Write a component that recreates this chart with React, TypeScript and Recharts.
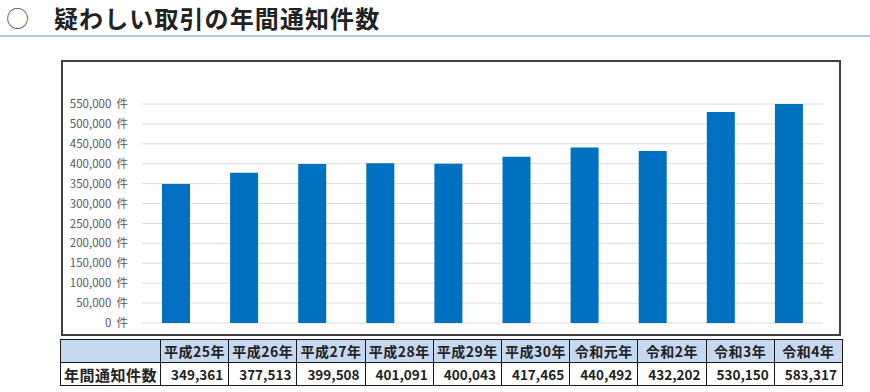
import React from "react";
import { BarChart, Bar, XAxis, YAxis, CartesianGrid } from "recharts";

const categories = ["平成25年", "平成26年", "平成27年", "平成28年", "平成29年", "平成30年", "令和元年", "令和2年", "令和3年", "令和4年"];
const counts = [349361, 377513, 399508, 401091, 400043, 417465, 440492, 432202, 530150, 583317];
const yTicks = [0, 50000, 100000, 150000, 200000, 250000, 300000, 350000, 400000, 450000, 500000, 550000];
const title = "疑わしい取引の年間通知件数";
const rowLabel = "年間通知件数";

const data = categories.map((c, i) => ({ name: c, value: counts[i] }));
const fmt = (v: number) => v.toLocaleString("en-US");
const FONT = '"Noto Sans CJK JP", "Noto Sans", sans-serif';

export default function App() {
  const cellBorder = "1.5px solid #1a1a1a";
  return (
    <div style={{ position: "absolute", left: 0, top: 0, width: 870, height: 392, background: "#fff", fontFamily: FONT, overflow: "hidden" }}>
      <div style={{ position: "absolute", left: 6, top: 0, height: 34, display: "flex", alignItems: "center", fontSize: 23, color: "#555" }}>○</div>
      <div style={{ position: "absolute", left: 54, top: 0, height: 34, display: "flex", alignItems: "center", fontSize: 24, fontWeight: 700, color: "#222", letterSpacing: 1.1 }}>{title}</div>
      <div style={{ position: "absolute", left: 0, top: 35, width: 870, height: 2, background: "#b9c9dc" }} />

      <div style={{ position: "absolute", left: 61, top: 60, width: 780, height: 276, border: "2px solid #404040", boxSizing: "border-box" }}>
        <BarChart width={776} height={272} data={data} margin={{ top: 42, right: 16, bottom: 11, left: 0 }}>
          <CartesianGrid vertical={false} stroke="#dcdcdc" strokeWidth={1} />
          <XAxis dataKey="name" hide />
          <YAxis
            width={79}
            domain={[0, 550000]}
            ticks={yTicks}
            allowDataOverflow
            axisLine={false}
            tickLine={false}
            tickSize={0}
            tickMargin={14}
            interval={0}
            tickFormatter={(v: number) => `${fmt(v)}\u00a0\u00a0件`}
            tick={{ fontSize: 11.5, fill: "#595959", fontFamily: FONT }}
          />
          <Bar dataKey="value" fill="#0070c0" barSize={28} isAnimationActive={false} />
        </BarChart>
      </div>

      <table style={{ position: "absolute", left: 60, top: 339, width: 782, borderCollapse: "collapse", tableLayout: "fixed", fontFamily: FONT, fontWeight: 700, color: "#222" }}>
        <colgroup>
          <col style={{ width: 100 }} />
          {categories.map((c) => (
            <col key={c} style={{ width: 68.2 }} />
          ))}
        </colgroup>
        <tbody>
          <tr style={{ height: 23 }}>
            <td style={{ border: cellBorder, background: "#c6d9f0" }} />
            {categories.map((c) => (
              <td key={c} style={{ border: cellBorder, background: "#c6d9f0", textAlign: "center", fontSize: 14, letterSpacing: 0.5, padding: 0, whiteSpace: "nowrap" }}>{c}</td>
            ))}
          </tr>
          <tr style={{ height: 23 }}>
            <td style={{ border: cellBorder, fontSize: 15, letterSpacing: 0.5, padding: "0 0 0 3px", whiteSpace: "nowrap" }}>{rowLabel}</td>
            {counts.map((v, i) => (
              <td key={i} style={{ border: cellBorder, textAlign: "right", fontSize: 13.5, padding: "0 5px 0 0", whiteSpace: "nowrap" }}>{fmt(v)}</td>
            ))}
          </tr>
        </tbody>
      </table>
    </div>
  );
}
